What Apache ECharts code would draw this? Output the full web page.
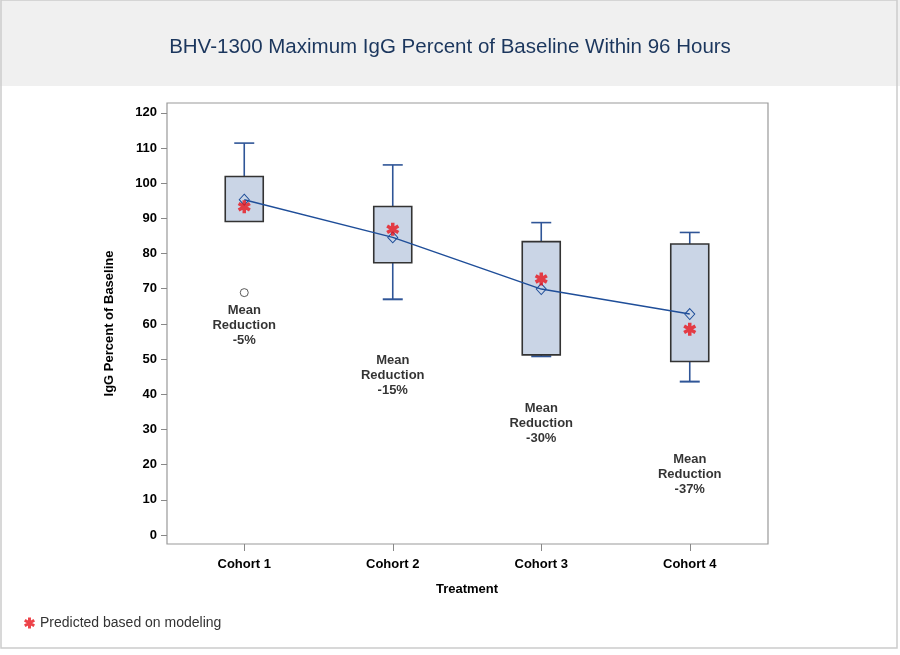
<!DOCTYPE html>
<html>
<head>
<meta charset="utf-8">
<script src="https://cdn.jsdelivr.net/npm/echarts@6/dist/echarts.min.js"></script>
<style>
html,body{margin:0;padding:0;background:#fff;}
#chart{width:900px;height:655px;}
</style>
</head>
<body>
<div id="chart"></div>
<script>
var categories = ['Cohort 1', 'Cohort 2', 'Cohort 3', 'Cohort 4'];
// whisker low (null = no lower whisker), Q1, Q3, whisker high
var whiskerLow = [null, 67.0, 50.8, 43.6];
var q1Values = [89.1, 77.4, 51.2, 49.3];
var q3Values = [101.9, 93.4, 83.4, 82.7];
var whiskerHigh = [111.4, 105.2, 88.8, 86.0];
var meanValues = [95.3, 84.6, 69.9, 62.8];
var predictedValues = [93.3, 86.9, 72.8, 58.5];
var outliers = [[0, 68.9]];
var yTicks = [0, 10, 20, 30, 40, 50, 60, 70, 80, 90, 100, 110, 120];
var annotationTexts = ['Mean\nReduction\n-5%', 'Mean\nReduction\n-15%', 'Mean\nReduction\n-30%', 'Mean\nReduction\n-37%'];
var annotationY = [59.7, 45.5, 31.6, 17.3];

var boxData = categories.map(function (c, i) {
  return [i, whiskerLow[i] == null ? q1Values[i] : whiskerLow[i], q1Values[i], q3Values[i], whiskerHigh[i], whiskerLow[i] == null ? 0 : 1];
});
var annotationData = categories.map(function (c, i) {
  return { value: [i, annotationY[i]], label: { formatter: annotationTexts[i] } };
});
var w = 0.27;
function rot(x, y, a) { var c = Math.cos(a), s = Math.sin(a); return (x * c - y * s).toFixed(3) + ',' + (x * s + y * c).toFixed(3); }
var starPath = 'path://' + [0, Math.PI / 3, 2 * Math.PI / 3].map(function (a) {
  return 'M' + rot(-w, -1, a) + 'L' + rot(w, -1, a) + 'L' + rot(w, 1, a) + 'L' + rot(-w, 1, a) + 'Z';
}).join(' ');

var chart = echarts.init(document.getElementById('chart'), null, { renderer: 'canvas' });
var font = 'Arial, "Liberation Sans", Helvetica, sans-serif';

chart.setOption({
  animation: false,
  backgroundColor: '#ffffff',
  textStyle: { fontFamily: font },
  title: {
    text: 'BHV-1300 Maximum IgG Percent of Baseline Within 96 Hours',
    left: 'center',
    top: 32,
    textStyle: { fontSize: 20.5, fontWeight: 'normal', color: '#1b365d', fontFamily: font }
  },
  graphic: [
    { type: 'rect', z: -10, shape: { x: 0, y: 0, width: 900, height: 86 }, style: { fill: '#f0f0f0' } },
    { type: 'rect', z: -9, shape: { x: 1, y: 0, width: 896, height: 648 }, style: { fill: null, stroke: '#cccccc', lineWidth: 1.5 } }
  ],
  legend: {
    data: ['Predicted based on modeling'],
    left: 19,
    top: 611,
    itemWidth: 11,
    itemHeight: 11,
    itemGap: 6,
    textStyle: { fontSize: 14, color: '#333333', fontFamily: font },
    selectedMode: false
  },
  grid: [
    { left: 170, right: 136, top: 103, bottom: 111 },
    { left: 167, right: 132, top: 103, bottom: 111, show: true, borderColor: '#999999', borderWidth: 1.2, backgroundColor: 'transparent' }
  ],
  xAxis: [
    {
      type: 'category', data: categories, gridIndex: 0,
      boundaryGap: true,
      axisLine: { show: false, onZero: false },
      axisTick: { show: true, alignWithLabel: true, length: 7, lineStyle: { color: '#888888' } },
      axisLabel: { fontSize: 13, fontWeight: 'bold', color: '#000000', margin: 14, fontFamily: font },
      name: 'Treatment', nameLocation: 'middle', nameGap: 39,
      nameTextStyle: { fontSize: 13, fontWeight: 'bold', color: '#000000', fontFamily: font }
    },
    { type: 'value', gridIndex: 1, show: false, min: 0, max: 1 }
  ],
  yAxis: [
    {
      type: 'value', gridIndex: 0, min: -2.56, max: 122.8, offset: 3,
      axisLine: { show: false },
      splitLine: { show: false },
      axisTick: { show: true, length: 6, lineStyle: { color: '#888888' }, customValues: yTicks },
      axisLabel: { fontSize: 13, fontWeight: 'bold', color: '#000000', margin: 10, fontFamily: font, customValues: yTicks },
      name: 'IgG Percent of Baseline', nameLocation: 'middle', nameGap: 51, nameRotate: 90,
      nameTextStyle: { fontSize: 13, fontWeight: 'bold', color: '#000000', fontFamily: font }
    },
    { type: 'value', gridIndex: 1, show: false, min: 0, max: 1 }
  ],
  series: [
    {
      type: 'custom',
      name: 'box',
      xAxisIndex: 0, yAxisIndex: 0,
      data: boxData,
      z: 2,
      renderItem: function (params, api) {
        var i = api.value(0);
        var pLow = api.coord([i, api.value(1)]);
        var pQ1 = api.coord([i, api.value(2)]);
        var pQ3 = api.coord([i, api.value(3)]);
        var pHigh = api.coord([i, api.value(4)]);
        var hasLow = api.value(5) === 1;
        var x = pQ1[0];
        var bw = 38, cw = 20;
        var wStyle = { stroke: '#2f5597', lineWidth: 1.6 };
        var children = [
          { type: 'line', shape: { x1: x, y1: pQ3[1], x2: x, y2: pHigh[1] }, style: wStyle },
          { type: 'line', shape: { x1: x - cw / 2, y1: pHigh[1], x2: x + cw / 2, y2: pHigh[1] }, style: wStyle }
        ];
        if (hasLow) {
          children.push({ type: 'line', shape: { x1: x, y1: pQ1[1], x2: x, y2: pLow[1] }, style: wStyle });
          children.push({ type: 'line', shape: { x1: x - cw / 2, y1: pLow[1], x2: x + cw / 2, y2: pLow[1] }, style: { stroke: '#2f5597', lineWidth: 2 } });
        }
        children.push({ type: 'rect', shape: { x: x - bw / 2, y: pQ3[1], width: bw, height: pQ1[1] - pQ3[1] },
          style: { fill: '#cad5e6', stroke: '#333333', lineWidth: 1.6 } });
        return { type: 'group', children: children };
      }
    },
    {
      type: 'line',
      name: 'Mean',
      data: meanValues,
      z: 3,
      symbol: 'diamond',
      symbolSize: [10, 11],
      lineStyle: { color: '#1f4e99', width: 1.5 },
      itemStyle: { color: 'rgba(0,0,0,0)', borderColor: '#1f4e99', borderWidth: 1 }
    },
    {
      type: 'scatter',
      name: 'Predicted based on modeling',
      data: predictedValues,
      z: 4,
      symbol: starPath,
      symbolKeepAspect: true,
      symbolSize: 13,
      itemStyle: { color: '#e8141c' }
    },
    {
      type: 'scatter',
      name: 'Outlier',
      data: outliers,
      z: 4,
      symbol: 'circle',
      symbolSize: 8,
      itemStyle: { color: '#ffffff', borderColor: '#333333', borderWidth: 1 }
    },
    {
      type: 'scatter',
      name: 'Annotations',
      data: annotationData,
      symbolSize: 0,
      z: 5,
      label: {
        show: true, position: 'inside', align: 'center', verticalAlign: 'middle',
        fontSize: 13, fontWeight: 'bold', color: '#000000', lineHeight: 15, fontFamily: font
      }
    }
  ]
});
</script>
</body>
</html>
